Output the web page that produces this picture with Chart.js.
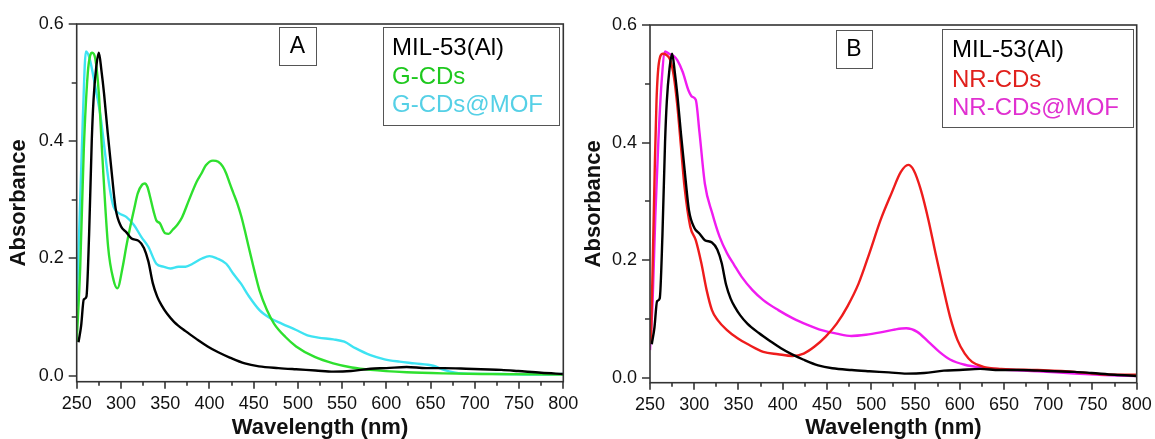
<!DOCTYPE html>
<html>
<head>
<meta charset="utf-8">
<script src="https://cdn.jsdelivr.net/npm/chart.js@4/dist/chart.umd.min.js"></script>
<style>
  body { margin: 0; background: #fff; }
  .panel { position: absolute; top: 0; }
</style>
</head>
<body>
<div class="panel" style="left:0"><canvas id="panelA" width="580" height="439"></canvas></div>
<div class="panel" style="left:580px"><canvas id="panelB" width="575" height="439"></canvas></div>
<script>
// tick values
const xTickVals = [250, 300, 350, 400, 450, 500, 550, 600, 650, 700, 750, 800];
const xMinorVals = [275, 325, 375, 425, 475, 525, 575, 625, 675, 725, 775];
const yTickVals = [0, 0.2, 0.4, 0.6];
const yMinorVals = [0.1, 0.3, 0.5];

// MIL-53(Al)
const milX = [252,255,258,261,264,267,269,272,275,278,281,285,290,294,300,306,312,320,326,331,336,341,346,352,360,373,386,398,410,423,440,456,478,498,520,540,560,582,600,623,645,665,690,707,730,749,775,800];
const milY = [0.057,0.085,0.13,0.135,0.24,0.40,0.47,0.525,0.551,0.52,0.48,0.415,0.34,0.285,0.255,0.245,0.234,0.23,0.218,0.195,0.158,0.135,0.12,0.106,0.092,0.076,0.062,0.05,0.04,0.031,0.021,0.016,0.013,0.011,0.009,0.007,0.008,0.012,0.013,0.015,0.013,0.013,0.012,0.011,0.01,0.008,0.005,0.003];

// G-CDs
const gX = [250,254,258,262.5,265,267.5,271,275,279,285.5,291.7,296,302,306,310.5,315,319,324,327,330,333,337,340,344,350,354,358.5,364,369,377,385.6,391,396,404,410,415,419,423,427,431.5,436,440,444,448,452,456.5,465,473,486,498,519,540,561,582,623,665,707,800];
const gY = [0.058,0.186,0.385,0.516,0.545,0.551,0.541,0.482,0.374,0.22,0.163,0.149,0.186,0.22,0.254,0.285,0.311,0.326,0.328,0.322,0.305,0.28,0.265,0.26,0.243,0.242,0.249,0.258,0.27,0.30,0.331,0.345,0.359,0.367,0.365,0.357,0.345,0.328,0.312,0.294,0.272,0.248,0.222,0.197,0.172,0.146,0.112,0.089,0.066,0.05,0.032,0.021,0.014,0.01,0.006,0.004,0.003,0.002];

// G-CDs@MOF
const cX = [250,254,257,260.4,264.6,271,277,283,287.6,291.7,298,306,314.7,323,331,340,348,356,365,373,381,391.6,400,408.6,419,427,435.7,444,456.6,469,481.6,498,510.8,523,540,552.5,565,582,598,615,632,653,665,686,728,769.5,800];
const cY = [0.118,0.30,0.442,0.553,0.541,0.493,0.442,0.368,0.317,0.288,0.277,0.271,0.257,0.237,0.22,0.191,0.186,0.183,0.186,0.186,0.191,0.20,0.204,0.20,0.191,0.174,0.157,0.137,0.112,0.098,0.089,0.078,0.069,0.065,0.062,0.058,0.047,0.035,0.028,0.024,0.021,0.017,0.01,0.004,0.003,0.002,0.003];

// NR-CDs
const rX = [251,253,255.4,257.4,260,264.5,268.6,272.7,277,281,285,289,295.5,301.7,308,314,320,326.5,337,349,361.7,378,394.6,411,423.7,436,448.5,461,473,485.7,498,510.5,523,533.5,541.8,548,556,564.7,572.6,581,589,597.5,605.7,614,626,647,688,729.7,758.5,800];
const rY = [0.058,0.189,0.359,0.473,0.535,0.551,0.549,0.541,0.512,0.461,0.393,0.325,0.257,0.234,0.195,0.149,0.115,0.098,0.081,0.067,0.056,0.044,0.04,0.037,0.041,0.053,0.07,0.092,0.121,0.16,0.212,0.268,0.314,0.35,0.362,0.353,0.32,0.268,0.212,0.155,0.104,0.064,0.041,0.027,0.019,0.015,0.013,0.01,0.006,0.005];

// NR-CDs@MOF
const mX = [250,253,256,259.5,263,267,271.5,277,281,287,293.4,297.6,301.7,306,312,320.3,328.6,337,345,353.4,365.8,378,395,411.6,428,444,461,477.6,494,510.5,527,539.6,552,564.7,577,589,605.7,626,647,688,729.7,771,800];
const mY = [0.047,0.132,0.274,0.404,0.501,0.555,0.551,0.547,0.54,0.52,0.489,0.478,0.473,0.416,0.33,0.28,0.24,0.212,0.192,0.172,0.149,0.132,0.115,0.101,0.09,0.081,0.075,0.071,0.073,0.077,0.082,0.084,0.078,0.061,0.044,0.031,0.022,0.017,0.014,0.011,0.007,0.004,0.003];

const seriesNamesA = ["MIL-53(Al)", "G-CDs", "G-CDs@MOF"];
const seriesNamesB = ["MIL-53(Al)", "NR-CDs", "NR-CDs@MOF"];

const FONT = "'Liberation Sans', Arial, sans-serif";
const pts = (xs, ys) => xs.map((x, i) => ({ x: x, y: ys[i] }));

// frame, minor ticks, tag box and legend box
const decor = {
  id: 'decor',
  afterDraw(chart, args, o) {
    const { ctx, chartArea: a } = chart;
    const x = chart.scales.x, y = chart.scales.y;
    ctx.save();
    ctx.strokeStyle = '#333';
    ctx.lineWidth = 1.6;
    ctx.strokeRect(a.left, a.top, a.right - a.left, a.bottom - a.top);
    ctx.beginPath();
    xTickVals.forEach(v => { const p = Math.round(x.getPixelForValue(v)); ctx.moveTo(p, a.bottom); ctx.lineTo(p, a.bottom + 7); });
    xMinorVals.forEach(v => { const p = Math.round(x.getPixelForValue(v)); ctx.moveTo(p, a.bottom); ctx.lineTo(p, a.bottom + 4); });
    yTickVals.forEach(v => { const p = Math.round(y.getPixelForValue(v)); ctx.moveTo(a.left, p); ctx.lineTo(a.left - 8, p); });
    yMinorVals.forEach(v => { const p = Math.round(y.getPixelForValue(v)); ctx.moveTo(a.left, p); ctx.lineTo(a.left - 5, p); });
    ctx.stroke();

    ctx.strokeStyle = '#555';
    ctx.lineWidth = 1;
    const t = o.tagBox;
    ctx.strokeRect(t[0] + 0.5, t[1] + 0.5, t[2], t[3]);
    ctx.fillStyle = '#000';
    ctx.font = '23px ' + FONT;
    ctx.textAlign = 'center';
    ctx.textBaseline = 'middle';
    ctx.fillText(o.tag, t[0] + t[2] / 2, t[1] + t[3] / 2 + 1);

    const l = o.legBox;
    ctx.strokeRect(l[0] + 0.5, l[1] + 0.5, l[2], l[3]);
    ctx.font = '24px ' + FONT;
    ctx.textAlign = 'left';
    o.names.forEach((n, i) => {
      ctx.fillStyle = o.textColors[i];
      ctx.fillText(n, o.textX, o.textY[i]);
    });
    ctx.restore();
  }
};

function makePanel(id, datasets, geo, deco) {
  new Chart(document.getElementById(id), {
    type: 'line',
    data: { datasets: datasets },
    options: {
      responsive: false,
      animation: false,
      devicePixelRatio: 1,
      layout: { padding: { top: geo.top, right: geo.right, bottom: 0, left: 0 } },
      elements: { point: { radius: 0 }, line: { borderWidth: 2.4, cubicInterpolationMode: 'monotone' } },
      plugins: { legend: { display: false }, tooltip: { enabled: false }, decor: deco },
      scales: {
        x: {
          type: 'linear', min: 250, max: 800,
          afterBuildTicks: s => { s.ticks = xTickVals.map(v => ({ value: v })); },
          afterFit: s => { s.height = geo.xh; s.paddingLeft = 0; s.paddingRight = 0; },
          grid: { display: false, drawTicks: false },
          border: { display: false },
          ticks: { color: '#111', padding: 12, maxRotation: 0, font: { family: FONT, size: 18 } },
          title: { display: true, text: 'Wavelength (nm)', color: '#111', padding: 0,
                   font: { family: FONT, size: 22, weight: 'bold', lineHeight: 1 } }
        },
        y: {
          min: geo.ymin, max: 0.6,
          afterBuildTicks: s => { s.ticks = yTickVals.map(v => ({ value: v })); },
          afterFit: s => { s.width = geo.yw; s.paddingTop = 0; s.paddingBottom = 0; },
          grid: { display: false, drawTicks: false },
          border: { display: false },
          ticks: { color: '#111', padding: 13, callback: v => v.toFixed(1), font: { family: FONT, size: 18 } },
          title: { display: true, text: 'Absorbance', color: '#111', padding: { top: geo.ytp, bottom: 0 },
                   font: { family: FONT, size: 22, weight: 'bold', lineHeight: 1 } }
        }
      }
    },
    plugins: [decor]
  });
}

const line = (label, data, color) => ({ label: label, data: data, borderColor: color, backgroundColor: color, fill: false });

makePanel('panelA', [
  line(seriesNamesA[0], pts(milX, milY), '#000000'),
  line(seriesNamesA[1], pts(gX, gY), '#2ee02e'),
  line(seriesNamesA[2], pts(cX, cY), '#3ee3f2')
], { top: 24, right: 16.7, xh: 57.3, yw: 76.7, ymin: -0.0102, ytp: 8 },
{ tag: 'A', tagBox: [279, 27, 37, 38], legBox: [383, 27, 176, 98], names: seriesNamesA,
  textColors: ['#000000', '#1ec81e', '#55d0e6'], textX: 392, textY: [48, 77, 105] });

makePanel('panelB', [
  line(seriesNamesB[0], pts(milX, milY), '#000000'),
  line(seriesNamesB[1], pts(rX, rY), '#ee1c1c'),
  line(seriesNamesB[2], pts(mX, mY), '#f01cf0')
], { top: 25, right: 18.3, xh: 56.3, yw: 70, ymin: -0.0085, ytp: 3 },
{ tag: 'B', tagBox: [256, 30, 36, 38], legBox: [362, 29, 191, 98], names: seriesNamesB,
  textColors: ['#000000', '#e0201c', '#e030d0'], textX: 372, textY: [50, 80, 108] });
</script>
</body>
</html>
